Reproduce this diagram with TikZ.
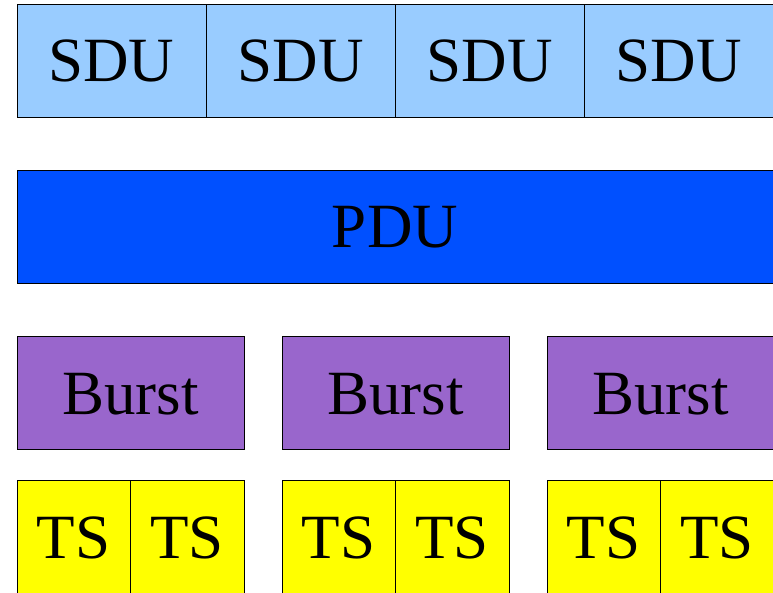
\documentclass[tikz,border=0pt]{standalone}
\usepackage{fontspec}
\setmainfont{Liberation Serif}

\definecolor{sdublue}{RGB}{153,204,255}
\definecolor{pdublue}{RGB}{0,80,255}
\definecolor{burstpurple}{RGB}{153,102,204}
\definecolor{tsyellow}{RGB}{255,255,0}

\tikzset{
  cell/.style={draw=black, line width=0.8pt, anchor=north west,
    minimum height=113pt, inner sep=0pt, outer sep=0pt,
    text height=43pt, text depth=0pt,
    font=\fontsize{63}{70}\selectfont},
  sducell/.style={cell, fill=sdublue, minimum width=189pt},
  pducell/.style={cell, fill=pdublue, minimum width=756pt},
  burstcell/.style={cell, fill=burstpurple, minimum width=227pt},
  tscell/.style={cell, fill=tsyellow, minimum width=113.5pt},
}

\begin{document}
\begin{tikzpicture}[x=1pt, y=-1pt]
    \useasboundingbox (0,0) rectangle (773,593);
    \clip (0,0) rectangle (773,593);

    % service data units
    \foreach \i in {0,...,3}
        \node[sducell] (sdu\i) at ({17+189*\i},4) {SDU};

    % protocol data unit
    \node[pducell] (pdu) at (17,170) {PDU};

    % bursts, two time slots each
    \foreach \i in {0,1,2} {
        \node[burstcell] (burst\i) at ({17+265*\i},336) {Burst};
        \node[tscell] (ts\i a) at ({17+265*\i},480) {TS};
        \node[tscell] (ts\i b) at (ts\i a.north east) {TS};
    }
\end{tikzpicture}
\end{document}
